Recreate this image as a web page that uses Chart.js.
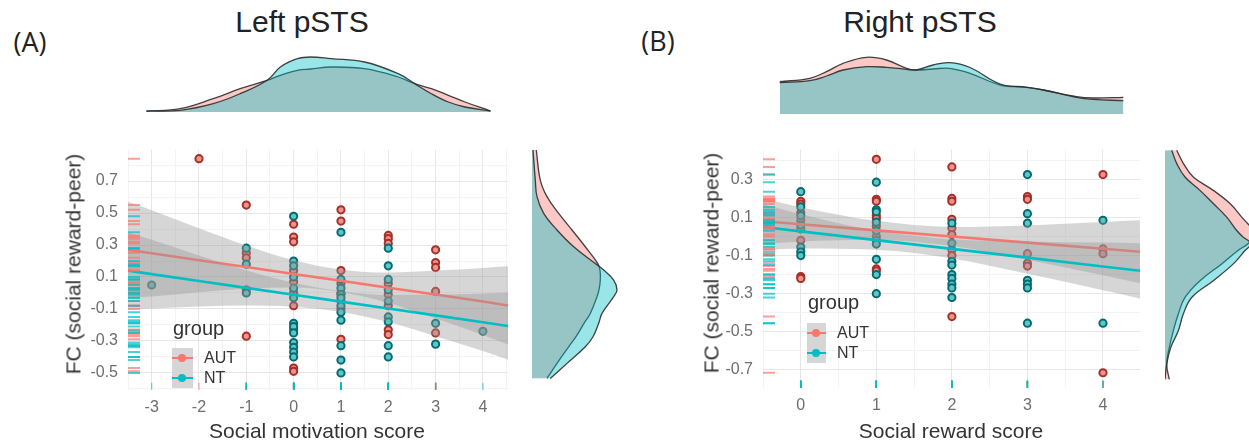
<!DOCTYPE html>
<html>
<head>
<meta charset="utf-8">
<script src="https://cdn.jsdelivr.net/npm/chart.js@4.4.1/dist/chart.umd.min.js"></script>
<style>
  body { margin: 0; width: 1249px; height: 444px; background: #fff; position: relative; overflow: hidden;
         font-family: "Liberation Sans", Arial, sans-serif; }
  canvas { position: absolute; }
  .c { position: absolute; transform: translate(-50%, -50%); white-space: nowrap; line-height: 1; color: #333; }
  .l { position: absolute; transform: translate(0, -50%); white-space: nowrap; line-height: 1; color: #333; }
  .key { position: absolute; background: #d6d6d6; }
  .key div { position: absolute; }
</style>
</head>
<body>

<canvas id="topL" width="380" height="64" style="left:128px;top:48px"></canvas>
<canvas id="topR" width="377" height="64" style="left:763px;top:50px"></canvas>
<canvas id="scatL" width="520" height="314" style="left:0;top:130px"></canvas>
<canvas id="scatR" width="520" height="314" style="left:640px;top:130px"></canvas>
<canvas id="sideL" width="100" height="252" style="left:532px;top:138px"></canvas>
<canvas id="sideR" width="84" height="250" style="left:1165px;top:138px"></canvas>

<div class="c" style="left:30px;top:41px;font-size:27px;font-family:'Open Sans',sans-serif;color:#222">(A)</div>
<div class="c" style="left:658px;top:40px;font-size:27px;font-family:'Open Sans',sans-serif;color:#222">(B)</div>
<div class="c" style="left:302px;top:22px;font-size:30px;color:#222">Left pSTS</div>
<div class="c" style="left:920px;top:22px;font-size:30px;color:#222">Right pSTS</div>

<div class="c" style="left:317px;top:430px;font-size:21px">Social motivation score</div>
<div class="c" style="left:951px;top:430px;font-size:21px">Social reward score</div>
<div class="c" style="left:73px;top:264px;font-size:21px;transform:translate(-50%,-50%) rotate(-90deg)">FC (social reward-peer)</div>
<div class="c" style="left:711px;top:263px;font-size:21px;transform:translate(-50%,-50%) rotate(-90deg)">FC (social reward-peer)</div>

<div class="l" style="left:173px;top:328px;font-size:20px">group</div>
<div class="key" style="left:172px;top:348px;width:21px;height:40px">
  <div style="left:0;top:9px;width:21px;height:2px;background:#F8766D"></div>
  <div style="left:6px;top:6px;width:8px;height:8px;border-radius:50%;background:#F8766D"></div>
  <div style="left:0;top:29px;width:21px;height:2px;background:#00BFC4"></div>
  <div style="left:6px;top:26px;width:8px;height:8px;border-radius:50%;background:#00BFC4"></div>
</div>
<div class="l" style="left:204px;top:358px;font-size:16px">AUT</div>
<div class="l" style="left:204px;top:378px;font-size:16px">NT</div>

<div class="l" style="left:808px;top:302px;font-size:20px">group</div>
<div class="key" style="left:807px;top:323px;width:19px;height:40px">
  <div style="left:0;top:9px;width:19px;height:2px;background:#F8766D"></div>
  <div style="left:5px;top:6px;width:8px;height:8px;border-radius:50%;background:#F8766D"></div>
  <div style="left:0;top:29px;width:19px;height:2px;background:#00BFC4"></div>
  <div style="left:5px;top:26px;width:8px;height:8px;border-radius:50%;background:#00BFC4"></div>
</div>
<div class="l" style="left:837px;top:333px;font-size:16px">AUT</div>
<div class="l" style="left:837px;top:353px;font-size:16px">NT</div>

<script>
// ---------- Left pSTS: social motivation score vs FC ----------
const leftAutX = [-2, -1, -1, -1, -1, -1,
  0, 0, 0, 0, 0, 0, 0, 0, 0, 0,
  1, 1, 1, 1, 1, 1, 1, 1,
  2, 2, 2, 2, 2, 2, 2, 2,
  3, 3, 3, 3, 3]
const leftAutY = [0.84, 0.55, 0.25, 0.22, 0.02, -0.27,
  0.43, 0.35, 0.32, 0.14, 0.07, 0.0, -0.08, -0.23, -0.47, -0.49,
  0.52, 0.45, 0.14, 0.06, 0.0, -0.05, -0.1, -0.29,
  0.36, 0.34, 0.31, 0.06, -0.01, -0.08, -0.23, -0.26,
  0.27, 0.19, 0.16, 0.01, -0.25]
const leftNtX = [-3, -1, -1, -1,
  0, 0, 0, 0, 0, 0, 0, 0, 0, 0, 0, 0, 0,
  1, 1, 1, 1, 1, 1, 1, 1, 1, 1, 1,
  2, 2, 2, 2, 2, 2, 2, 2, 2,
  3, 3, 4]
const leftNtY = [0.05, 0.28, 0.18, 0.0,
  0.48, 0.2, 0.17, 0.1, 0.03, -0.03, -0.19, -0.21, -0.25, -0.31, -0.34, -0.37, -0.4,
  0.38, 0.085, 0.03, -0.01, -0.03, -0.08, -0.12, -0.17, -0.33, -0.42, -0.5,
  0.28, 0.17, 0.085, 0.02, -0.05, -0.15, -0.18, -0.33, -0.4,
  -0.19, -0.32, -0.24]

// fitted lines and 95% bands
const leftFitX = [-3.5, -3, -2, -1, 0, 1, 2, 3, 4, 4.53]
const leftAutFit = [0.27, 0.248, 0.205, 0.162, 0.119, 0.076, 0.033, -0.010, -0.053, -0.078]
const leftAutHi = [0.57, 0.518, 0.405, 0.297, 0.204, 0.146, 0.128, 0.14, 0.157, 0.167]
const leftAutLo = [-0.03, -0.022, 0.005, 0.027, 0.034, 0.006, -0.062, -0.16, -0.263, -0.323]
const leftNtFit = [0.14, 0.118, 0.075, 0.032, -0.011, -0.054, -0.097, -0.14, -0.183, -0.207]
const leftNtHi = [0.38, 0.333, 0.235, 0.142, 0.064, 0.011, -0.012, -0.01, -0.003, 0.003]
const leftNtLo = [-0.10, -0.097, -0.085, -0.078, -0.086, -0.119, -0.182, -0.27, -0.363, -0.417]

// marginal densities (heights in px of the marginal panel)
const leftTopX = [-3.11, -2.40, -1.70, -1.13, -0.56, -0.28, 0.08, 0.36, 0.79, 1.50, 2.21, 2.56, 2.91, 3.27, 3.62, 4.16]
const leftTopAut = [0.7, 3.3, 13.3, 23.3, 31.7, 36.7, 41.7, 43, 45, 43.3, 35, 28.3, 23.3, 16.7, 10, 1]
const leftTopNt = [1, 1.7, 8.3, 18.3, 31.7, 45, 53.3, 55, 53.3, 50, 38.3, 28.3, 18.3, 10, 5, 1]
const leftSideY = [0.825, 0.646, 0.547, 0.447, 0.348, 0.248, 0.149, 0.109, 0.049, -0.010, -0.050, -0.150, -0.209, -0.289, -0.349, -0.448, -0.538]
const leftSideAut = [4.3, 8.3, 15, 26.7, 40, 53.3, 65.7, 68, 68.3, 67, 65, 58.3, 52, 44, 36.7, 25, 15]
const leftSideNt = [1, 3.3, 5, 11.7, 25, 41.7, 63, 71.7, 81.7, 85, 81.7, 70, 66.7, 61, 53.3, 35, 18.3]

// ---------- Right pSTS: social reward score vs FC ----------
const rightAutX = [0, 0, 0, 0, 0, 0, 0, 0,
  1, 1, 1, 1, 1, 1, 1, 1, 1,
  2, 2, 2, 2, 2, 2, 2, 2, 2,
  3, 3, 3, 3, 3,
  4, 4, 4, 4]
const rightAutY = [0.185, 0.17, 0.125, 0.085, 0.04, -0.02, -0.21, -0.22,
  0.405, 0.195, 0.185, 0.11, 0.095, 0.055, 0.0, -0.17, -0.18,
  0.365, 0.2, 0.185, 0.09, 0.045, 0.01, -0.07, -0.1, -0.42,
  0.21, 0.195, -0.09, -0.14, -0.155,
  0.325, -0.065, -0.09, -0.715]
const rightNtX = [0, 0, 0, 0, 0, 0, 0,
  1, 1, 1, 1, 1, 1, 1, 1, 1, 1,
  2, 2, 2, 2, 2, 2, 2, 2, 2,
  3, 3, 3, 3, 3, 3, 3,
  4, 4]
const rightNtY = [0.235, 0.155, 0.11, 0.06, -0.055, -0.08, -0.1,
  0.285, 0.14, 0.13, 0.075, 0.03, -0.02, -0.04, -0.12, -0.2, -0.3,
  0.07, -0.035, -0.13, -0.15, -0.2, -0.22, -0.25, -0.27, -0.32,
  0.325, 0.12, 0.07, -0.23, -0.25, -0.27, -0.455,
  0.085, -0.455]

const rightFitX = [-0.5, 0, 1, 2, 3, 4, 4.49]
const rightAutFit = [0.08, 0.064, 0.032, 0.0, -0.032, -0.064, -0.08]
const rightAutHi = [0.2, 0.154, 0.082, 0.05, 0.058, 0.076, 0.085]
const rightAutLo = [-0.04, -0.026, -0.018, -0.05, -0.122, -0.204, -0.245]
const rightNtFit = [0.05, 0.027, -0.019, -0.065, -0.111, -0.157, -0.18]
const rightNtHi = [0.17, 0.117, 0.031, -0.015, -0.026, -0.032, -0.035]
const rightNtLo = [-0.07, -0.063, -0.069, -0.115, -0.196, -0.282, -0.325]

const rightTopX = [-0.278, 0.119, 0.34, 0.56, 0.87, 1.135, 1.40, 1.53, 1.75, 1.97, 2.24, 2.64, 2.99, 3.21, 3.65, 3.87, 4.27]
const rightTopAut = [32.3, 35.7, 42.3, 50.7, 56.7, 54, 45.7, 44, 45, 45.7, 40.7, 29, 26.7, 24, 17.3, 16, 16.7]
const rightTopNt = [31.3, 33.3, 38, 44, 47.3, 46.7, 44.7, 44, 49, 51.3, 46.5, 30, 26.7, 24, 16.7, 14.7, 13.3]
const rightSideY = [0.395, 0.329, 0.261, 0.194, 0.128, 0.060, -0.007, -0.040, -0.073, -0.107, -0.174, -0.258, -0.342, -0.425, -0.509, -0.593, -0.676, -0.752]
const rightSideAut = [11.7, 18.3, 28.3, 48.3, 65, 76.7, 88, 88, 83, 73, 56.7, 35, 20, 13.3, 8.3, 4.3, 1.7, 4.3]
const rightSideNt = [6.7, 11.7, 20, 35, 48.3, 61.7, 71.7, 78.3, 86, 80, 68.3, 48.3, 26.7, 18.3, 13.3, 5.7, 1.7, 0]

const red = '#F8766D', teal = '#00BFC4'
const autFill = 'rgba(248,118,109,0.4)', ntFill = 'rgba(0,191,196,0.4)'
const bandFill = 'rgba(153,153,153,0.4)'
const outline = 'rgba(45,45,45,0.9)'
const tickFont = {family: '"Liberation Sans", Arial, sans-serif', size: 16}

const pts = (xs, ys) => xs.map((x, i) => ({x: x, y: ys[i]}))
const near = (v, k) => Math.abs(v * k - Math.round(v * k)) < 1e-6

function band(xs, hi, lo, order) {
  return [
    {type: 'line', data: pts(xs, hi), borderColor: 'transparent', borderWidth: 0, pointRadius: 0,
     fill: false, cubicInterpolationMode: 'monotone', order: order},
    {type: 'line', data: pts(xs, lo), borderColor: 'transparent', borderWidth: 0, pointRadius: 0,
     fill: '-1', backgroundColor: bandFill, cubicInterpolationMode: 'monotone', order: order - 1}
  ]
}

function fitLine(xs, ys, color, order) {
  return {type: 'line', data: pts(xs, ys), borderColor: color, borderWidth: 2.6, pointRadius: 0,
          fill: false, order: order}
}

function rug(data, color, rotation, width, order) {
  return {data: data, pointStyle: 'line', pointRadius: rotation ? 3.5 : 6, rotation: rotation,
          borderColor: color, borderWidth: width, order: order}
}

function scatterPanel(id, o) {
  const rugX = o.xMin + (o.xMax - o.xMin) * 6 / o.w
  const rugY = o.yMin + (o.yMax - o.yMin) * 4 / o.h
  const autPts = {data: pts(o.autX, o.autY), pointRadius: 3.6, borderWidth: 2,
                  backgroundColor: '#ec938c', borderColor: '#a62f2a', order: 20}
  const ntPts = {data: pts(o.ntX, o.ntY), pointRadius: 3.6, borderWidth: 2,
                 backgroundColor: '#5cc6c9', borderColor: '#046c70', order: 19}
  const datasets = [autPts, ntPts]
    .concat(band(o.fitX, o.autHi, o.autLo, 18))
    .concat([fitLine(o.fitX, o.autFit, red, 16)])
    .concat(band(o.fitX, o.ntHi, o.ntLo, 15))
    .concat([fitLine(o.fitX, o.ntFit, teal, 13)])
    .concat([
      rug(o.autY.map(v => ({x: rugX, y: v})), 'rgba(248,118,109,0.7)', 0, 2, 4),
      rug(o.ntY.map(v => ({x: rugX, y: v})), 'rgba(0,191,196,0.7)', 0, 2, 3),
      rug(o.autX.map(v => ({x: v, y: rugY})), 'rgba(248,118,109,0.6)', 90, 1.3, 2),
      rug(o.ntX.map(v => ({x: v, y: rugY})), 'rgba(0,191,196,0.6)', 90, 1.3, 1)
    ])

  new Chart(document.getElementById(id), {
    type: 'scatter',
    data: {datasets: datasets},
    options: {
      responsive: false,
      animation: false,
      layout: {padding: {left: 0, right: o.padRight, top: o.padTop, bottom: 0}},
      plugins: {legend: {display: false}, tooltip: {enabled: false}},
      scales: {
        x: {
          type: 'linear', min: o.xMin, max: o.xMax,
          afterFit: s => { s.height = o.xAxisH },
          border: {display: false},
          grid: {drawTicks: false, color: c => c.tick && near(c.tick.value, 1) ? '#e6e6e6' : '#f3f3f3'},
          ticks: {stepSize: 0.5, autoSkip: false, includeBounds: false, maxRotation: 0, padding: 8,
                  color: '#6e6e6e', font: tickFont,
                  callback: v => near(v, 1) ? String(Math.round(v)) : ''}
        },
        y: {
          type: 'linear', min: o.yMin, max: o.yMax,
          afterFit: s => { s.width = o.yAxisW },
          border: {display: false},
          grid: {drawTicks: false,
                 color: c => c.tick && Math.abs(Math.round(c.tick.value * 10)) % 2 === 1 ? '#e6e6e6' : '#f3f3f3'},
          ticks: {stepSize: 0.1, autoSkip: false, includeBounds: false, padding: 10,
                  color: '#6e6e6e', font: tickFont,
                  callback: v => Math.abs(Math.round(v * 10)) % 2 === 1 ? v.toFixed(1) : ''}
        }
      }
    }
  })
}

function density(id, o) {
  const side = o.side
  const mk = (vals, fillCol, order) => ({
    data: side ? pts(vals, o.pos) : pts(o.pos, vals),
    fill: 'origin', backgroundColor: fillCol, borderColor: outline, borderWidth: 1.3,
    pointRadius: 0, tension: 0.4, order: order
  })
  new Chart(document.getElementById(id), {
    type: 'line',
    data: {datasets: [mk(o.nt, ntFill, 1), mk(o.aut, autFill, 2)]},
    options: {
      responsive: false,
      animation: false,
      indexAxis: side ? 'y' : 'x',
      layout: {padding: 0},
      plugins: {legend: {display: false}, tooltip: {enabled: false}},
      scales: {
        x: side ? {type: 'linear', display: false, min: 0, max: o.hMax}
                : {type: 'linear', display: false, min: o.min, max: o.max},
        y: side ? {type: 'linear', display: false, min: o.min, max: o.max}
                : {type: 'linear', display: false, min: 0, max: o.hMax}
      }
    }
  })
}

scatterPanel('scatL', {
  autX: leftAutX, autY: leftAutY, ntX: leftNtX, ntY: leftNtY,
  fitX: leftFitX, autFit: leftAutFit, autHi: leftAutHi, autLo: leftAutLo,
  ntFit: leftNtFit, ntHi: leftNtHi, ntLo: leftNtLo,
  xMin: -3.5, xMax: 4.53, yMin: -0.607, yMax: 0.897,
  w: 380, h: 252, yAxisW: 128, xAxisH: 54, padRight: 12, padTop: 8
})
scatterPanel('scatR', {
  autX: rightAutX, autY: rightAutY, ntX: rightNtX, ntY: rightNtY,
  fitX: rightFitX, autFit: rightAutFit, autHi: rightAutHi, autLo: rightAutLo,
  ntFit: rightNtFit, ntHi: rightNtHi, ntLo: rightNtLo,
  xMin: -0.5, xMax: 4.49, yMin: -0.795, yMax: 0.456,
  w: 377, h: 250, yAxisW: 123, xAxisH: 56, padRight: 20, padTop: 8
})

density('topL', {pos: leftTopX, aut: leftTopAut, nt: leftTopNt, min: -3.5, max: 4.53, hMax: 64})
density('topR', {pos: rightTopX, aut: rightTopAut, nt: rightTopNt, min: -0.5, max: 4.49, hMax: 64})
density('sideL', {side: true, pos: leftSideY, aut: leftSideAut, nt: leftSideNt, min: -0.607, max: 0.897, hMax: 100})
density('sideR', {side: true, pos: rightSideY, aut: rightSideAut, nt: rightSideNt, min: -0.795, max: 0.456, hMax: 84})
</script>
</body>
</html>
